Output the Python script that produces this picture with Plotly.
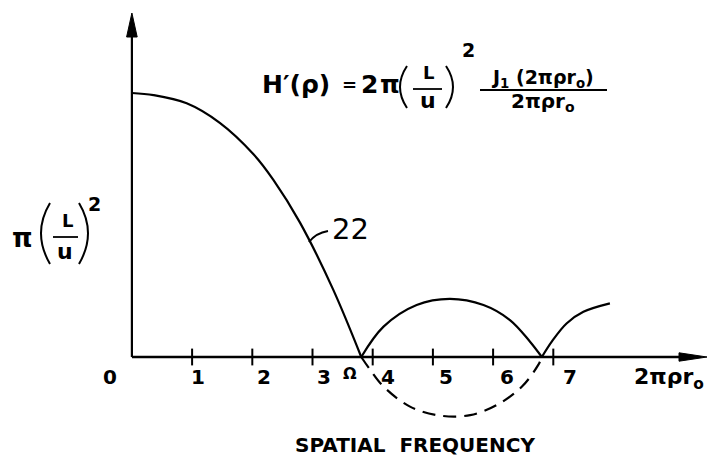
import plotly.graph_objects as go

W, H = 708, 459

# |H'(rho)|: main lobe, second and third lobes (solid)
lobe1_x = [0.0, 0.36, 0.91, 1.46, 2.02, 2.35, 2.79, 3.34, 3.81]
lobe1_y = [1.0, 0.992, 0.961, 0.887, 0.768, 0.671, 0.510, 0.257, 0.0]
lobe2_x = [3.81, 4.18, 4.73, 5.28, 5.84, 6.28, 6.61, 6.81]
lobe2_y = [0.0, 0.115, 0.197, 0.220, 0.197, 0.140, 0.059, 0.0]
lobe3_x = [6.81, 6.98, 7.22, 7.50, 7.94]
lobe3_y = [0.0, 0.060, 0.127, 0.171, 0.203]
# negative lobe of J1 shown dashed below the axis
neg_x = [3.81, 3.96, 4.18, 4.62, 5.12, 5.62, 6.06, 6.48, 6.75, 6.81]
neg_y = [0.0, -0.049, -0.112, -0.188, -0.222, -0.220, -0.182, -0.112, -0.030, 0.0]

tick_vals = [1, 2, 3, 4, 5, 6, 7]
tick_labels = ["0", "1", "2", "3", "4", "5", "6", "7"]
tick_label_x = [-0.36, 1.10, 2.19, 3.19, 4.25, 5.22, 6.23, 7.28]

X0_PX, X_UNIT = 131.9, 60.2
Y0_PX, Y_UNIT = 357.0, 264.0
x_range = [-X0_PX / X_UNIT, (W - X0_PX) / X_UNIT]
y_range = [-(H - Y0_PX) / Y_UNIT, Y0_PX / Y_UNIT]
x_axis_end = 9.30
y_axis_end = 1.22

FONT = "DejaVu Sans"
INK = "black"


def px(x, y):
    return x / W, 1 - y / H


fig = go.Figure()
for xs, ys in [(lobe1_x, lobe1_y), (lobe2_x, lobe2_y), (lobe3_x, lobe3_y)]:
    fig.add_trace(go.Scatter(x=xs, y=ys, mode="lines",
                             line=dict(shape="spline", smoothing=1.0, color=INK, width=2.2),
                             hoverinfo="skip", showlegend=False))
fig.add_trace(go.Scatter(x=neg_x, y=neg_y, mode="lines",
                         line=dict(shape="spline", smoothing=1.0, color=INK, width=2.2, dash="13px,8px"),
                         hoverinfo="skip", showlegend=False))
# tick marks crossing the frequency axis
fig.add_trace(go.Scatter(x=tick_vals, y=[0] * len(tick_vals), mode="markers",
                         marker=dict(symbol="line-ns", size=12, line=dict(color=INK, width=2)),
                         hoverinfo="skip", showlegend=False))

ann = []
for lab, lx in zip(tick_labels, tick_label_x):
    ann.append(dict(x=lx, y=px(0, 377)[1], xref="x", yref="paper", text=lab, showarrow=False,
                    font=dict(family=FONT, size=20, color=INK, weight="bold"),
                    xanchor="center", yanchor="middle"))


def text(x, y, s, size, bold=True):
    px_, py_ = px(x, y)
    ann.append(dict(x=px_, y=py_, xref="paper", yref="paper", text=s, showarrow=False,
                    font=dict(family=FONT, size=size, color=INK, weight="bold" if bold else "normal"),
                    xanchor="center", yanchor="middle"))


text(350, 373, "Ω", 16)
text(669, 378, "2πρr<sub>o</sub>", 22)
text(350, 229, "22", 29, bold=False)
text(415, 445, "SPATIAL  FREQUENCY", 20)

# H'(rho) formula
text(296, 84, "H′(ρ)", 25)
text(349, 85, "=", 18)
text(369, 85, "2", 25)
text(390, 85, "π", 25)
text(428, 72, "L", 18)
text(428, 101, "u", 22)
text(468, 50, "2", 19)
text(542, 78, "J<sub>1</sub> (2πρr<sub>o</sub>)", 19)
text(543, 102, "2πρr<sub>o</sub>", 20)

# pi (L/u)^2 marker on the ordinate
text(22, 238, "π", 26)
text(67, 220, "L", 18)
text(65, 251, "u", 22)
text(94, 204, "2", 19)

shapes = []

# coordinate axes
shapes.append(dict(type="line", xref="x", yref="y", x0=0, y0=0, x1=0, y1=y_axis_end,
                   line=dict(color=INK, width=2.2)))
shapes.append(dict(type="line", xref="x", yref="y", x0=0, y0=0, x1=x_axis_end, y1=0,
                   line=dict(color=INK, width=2.5)))


def poly(points):
    pts = [px(*p) for p in points]
    path = "M " + " L ".join(f"{a},{b}" for a, b in pts) + " Z"
    shapes.append(dict(type="path", xref="paper", yref="paper", path=path,
                       fillcolor=INK, line=dict(color=INK, width=1)))


# arrowheads
poly([(131.9, 13), (126.6, 37), (137.2, 37)])
poly([(707, 357), (679, 352.8), (679, 361.2)])


def line(x1, y1, x2, y2, w=1.8):
    a, b = px(x1, y1), px(x2, y2)
    shapes.append(dict(type="line", xref="paper", yref="paper", x0=a[0], y0=a[1], x1=b[0], y1=b[1],
                       line=dict(color=INK, width=w)))


def curve(p0, c, p2, w=2):
    a, b, d = px(*p0), px(*c), px(*p2)
    shapes.append(dict(type="path", xref="paper", yref="paper",
                       path=f"M {a[0]},{a[1]} Q {b[0]},{b[1]} {d[0]},{d[1]}",
                       line=dict(color=INK, width=w)))


# fraction bars
line(413, 89, 442, 89)
line(480, 90, 607, 90)
line(53, 237, 78, 237)
# bracket pairs
curve((407, 66), (393, 87), (407, 108))
curve((446, 66), (460, 87), (446, 108))
curve((50, 203), (32, 233), (50, 264))
curve((79, 203), (97, 233), (79, 264))
# leader from curve to reference numeral 22
curve((309, 242), (316, 233), (328, 231))

fig.update_layout(
    width=W, height=H, margin=dict(l=0, r=0, t=0, b=0),
    paper_bgcolor="white", plot_bgcolor="white",
    xaxis=dict(range=x_range, visible=False, fixedrange=True),
    yaxis=dict(range=y_range, visible=False, fixedrange=True),
    annotations=ann, shapes=shapes, showlegend=False,
)
fig.write_html("out.html")
